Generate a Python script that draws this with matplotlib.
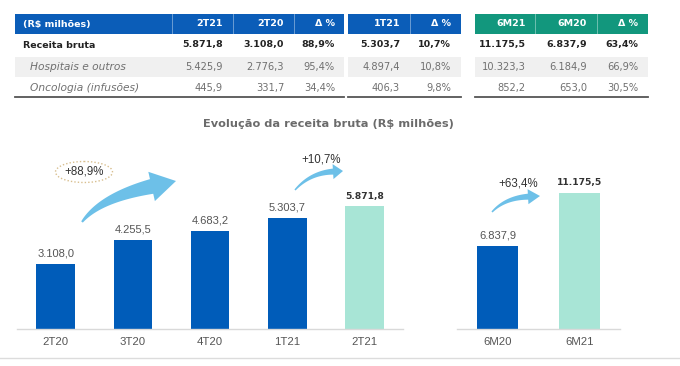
import numpy as np
import matplotlib.pyplot as plt
from matplotlib.patches import Rectangle, Ellipse, Polygon

# ---- data ----
head_a = ['2T21', '2T20', 'Δ %']
head_b = ['1T21', 'Δ %']
head_c = ['6M21', '6M20', 'Δ %']
row_labels = ['Receita bruta', 'Hospitais e outros', 'Oncologia (infusões)']
vals_a = [['5.871,8', '3.108,0', '88,9%'],
          ['5.425,9', '2.776,3', '95,4%'],
          ['445,9', '331,7', '34,4%']]
vals_b = [['5.303,7', '10,7%'],
          ['4.897,4', '10,8%'],
          ['406,3', '9,8%']]
vals_c = [['11.175,5', '6.837,9', '63,4%'],
          ['10.323,3', '6.184,9', '66,9%'],
          ['852,2', '653,0', '30,5%']]

quarters = ['2T20', '3T20', '4T20', '1T21', '2T21']
quarter_rev = [3108.0, 4255.5, 4683.2, 5303.7, 5871.8]
semesters = ['6M20', '6M21']
semester_rev = [6837.9, 11175.5]
growth = ['+88,9%', '+10,7%', '+63,4%']

BLUE = '#005cb9'
HEAD_BLUE = '#0b5db8'
HEAD_GREEN = '#12977d'
MINT = '#a8e5d6'
ARROW = '#6dc0e8'
GREY_TXT = '#555555'

W, H = 680, 366


def fmt_br(v):
    return '{:,.1f}'.format(v).replace(',', 'X').replace('.', ',').replace('X', '.')


def px_axes(fig, x0, x1, ytop, ybot):
    return fig.add_axes([x0 / W, (H - ybot) / H, (x1 - x0) / W, (ybot - ytop) / H])


def curved_arrow(ax, p0, c, tip, w0, w1, head_w, head_l, color):
    p0, c, tip = np.array(p0, float), np.array(c, float), np.array(tip, float)
    d = tip - c
    d = d / np.hypot(*d)
    b = tip - d * head_l
    t = np.linspace(0, 1, 40)[:, None]
    pts = (1 - t) ** 2 * p0 + 2 * (1 - t) * t * c + t ** 2 * b
    der = 2 * (1 - t) * (c - p0) + 2 * t * (b - c)
    der = der / np.hypot(der[:, 0], der[:, 1])[:, None]
    nrm = np.column_stack([-der[:, 1], der[:, 0]])
    w = (w0 + (w1 - w0) * t) / 2
    left = pts + nrm * w
    right = pts - nrm * w
    n_end = np.array([-d[1], d[0]])
    head = [b + n_end * head_w / 2, tip, b - n_end * head_w / 2]
    poly = np.vstack([left, head, right[::-1]])
    ax.add_patch(Polygon(poly, closed=True, fc=color, ec='none'))


fig = plt.figure(figsize=(6.8, 3.66), dpi=100)
fig.patch.set_facecolor('white')

# ---- table (pixel overlay) ----
ov = fig.add_axes([0, 0, 1, 1], zorder=5)
ov.set_xlim(0, W)
ov.set_ylim(H, 0)
ov.axis('off')
ov.patch.set_alpha(0)

tfont = 'DejaVu Sans'
tsize = 6.8
blocks = [
    (15, 344, [172, 233, 294], [223, 284, 335], head_a, vals_a, HEAD_BLUE),
    (348, 461, [410], [400, 451], head_b, vals_b, HEAD_BLUE),
    (475, 648, [535, 597], [526, 587, 638], head_c, vals_c, HEAD_GREEN),
]
row_y = [45, 67, 88]
for x0, x1, seps, rights, heads, vals, hc in blocks:
    ov.add_patch(Rectangle((x0, 14), x1 - x0, 20, fc=hc, ec='none'))
    for s in seps:
        ov.plot([s, s], [14, 34], color='white', lw=0.6, alpha=0.45)
    ov.add_patch(Rectangle((x0, 57), x1 - x0, 20, fc='#f0f0f0', ec='none'))
    ov.plot([x0, x1], [97, 97], color='#555555', lw=1.3)
    for xr, h in zip(rights, heads):
        ov.text(xr, 24, h, ha='right', va='center', color='white',
                fontsize=tsize, fontweight='bold', family=tfont)
    for r, row in enumerate(vals):
        for xr, v in zip(rights, row):
            if r == 0:
                ov.text(xr, row_y[r], v, ha='right', va='center', color='#222222',
                        fontsize=tsize, fontweight='bold', family=tfont)
            else:
                ov.text(xr, row_y[r], v, ha='right', va='center', color='#707070',
                        fontsize=tsize + 0.3, family=tfont)

ov.text(23, 24, '(R$ milhões)', ha='left', va='center', color='white',
        fontsize=tsize, fontweight='bold', family=tfont)
ov.text(23, row_y[0], row_labels[0], ha='left', va='center', color='#222222',
        fontsize=tsize, fontweight='bold', family=tfont)
for r in (1, 2):
    ov.text(30, row_y[r], row_labels[r], ha='left', va='center', color='#707070',
            fontsize=7.7, style='italic', family=tfont)

# ---- chart title ----
ov.text(328, 124, 'Evolução da receita bruta (R$ milhões)', ha='center', va='center',
        color='#6b6b6b', fontsize=8.2, fontweight='bold', family='DejaVu Sans')

# ---- bar charts ----
cfont = 'Liberation Sans'
axl = px_axes(fig, 17, 403, 150, 329)
axr = px_axes(fig, 457, 620, 150, 329)

for ax, cats, vals, ytop in ((axl, quarters, quarter_rev, 179 / 0.0209),
                             (axr, semesters, semester_rev, 179 / 0.0122)):
    x = np.arange(len(cats))
    colors = [BLUE] * (len(cats) - 1) + [MINT]
    ax.bar(x, vals, width=0.5, color=colors)
    ax.set_xlim(-0.5, len(cats) - 0.5)
    ax.set_ylim(0, ytop)
    ax.patch.set_alpha(0)
    for s in ('top', 'left', 'right'):
        ax.spines[s].set_visible(False)
    ax.spines['bottom'].set_color('#d9d9d9')
    ax.spines['bottom'].set_linewidth(1)
    ax.set_yticks([])
    ax.set_xticks(x)
    ax.set_xticklabels(cats, fontsize=8.2, color=GREY_TXT, family=cfont)
    ax.tick_params(axis='x', length=0, pad=5.5)
    for i, v in enumerate(vals):
        last = i == len(vals) - 1
        if last:
            ax.annotate(fmt_br(v), (i, v), xytext=(0, 4), textcoords='offset points',
                        ha='center', va='bottom', fontsize=6.6, color='#333333',
                        fontweight='bold', family='DejaVu Sans')
        else:
            ax.annotate(fmt_br(v), (i, v), xytext=(0, 4), textcoords='offset points',
                        ha='center', va='bottom', fontsize=8, color='#555555',
                        family=cfont)

# ---- growth arrows ----
curved_arrow(ov, (82, 222), (100, 198), (176, 181), 2, 15, 30, 25, ARROW)
ov.add_patch(Ellipse((84, 172), 57, 21, fc='none', ec='#d8bf8f', lw=1, ls=(0, (1, 1.5))))
ov.text(84, 172, growth[0], ha='center', va='center', fontsize=8.3, color='#333333', family=cfont)

curved_arrow(ov, (295, 190), (310, 173), (343, 171), 1.5, 6, 15, 10, ARROW)
ov.text(321, 159, growth[1], ha='center', va='center', fontsize=8.3, color='#333333', family=cfont)

curved_arrow(ov, (492, 212), (505, 198), (540, 196), 1.5, 6, 15, 12, ARROW)
ov.text(518, 184, growth[2], ha='center', va='center', fontsize=8.3, color='#333333', family=cfont)

# bottom separator
ov.plot([0, W], [358, 358], color='#dcdcdc', lw=1)

fig.savefig('out.png', dpi=100, facecolor='white')
